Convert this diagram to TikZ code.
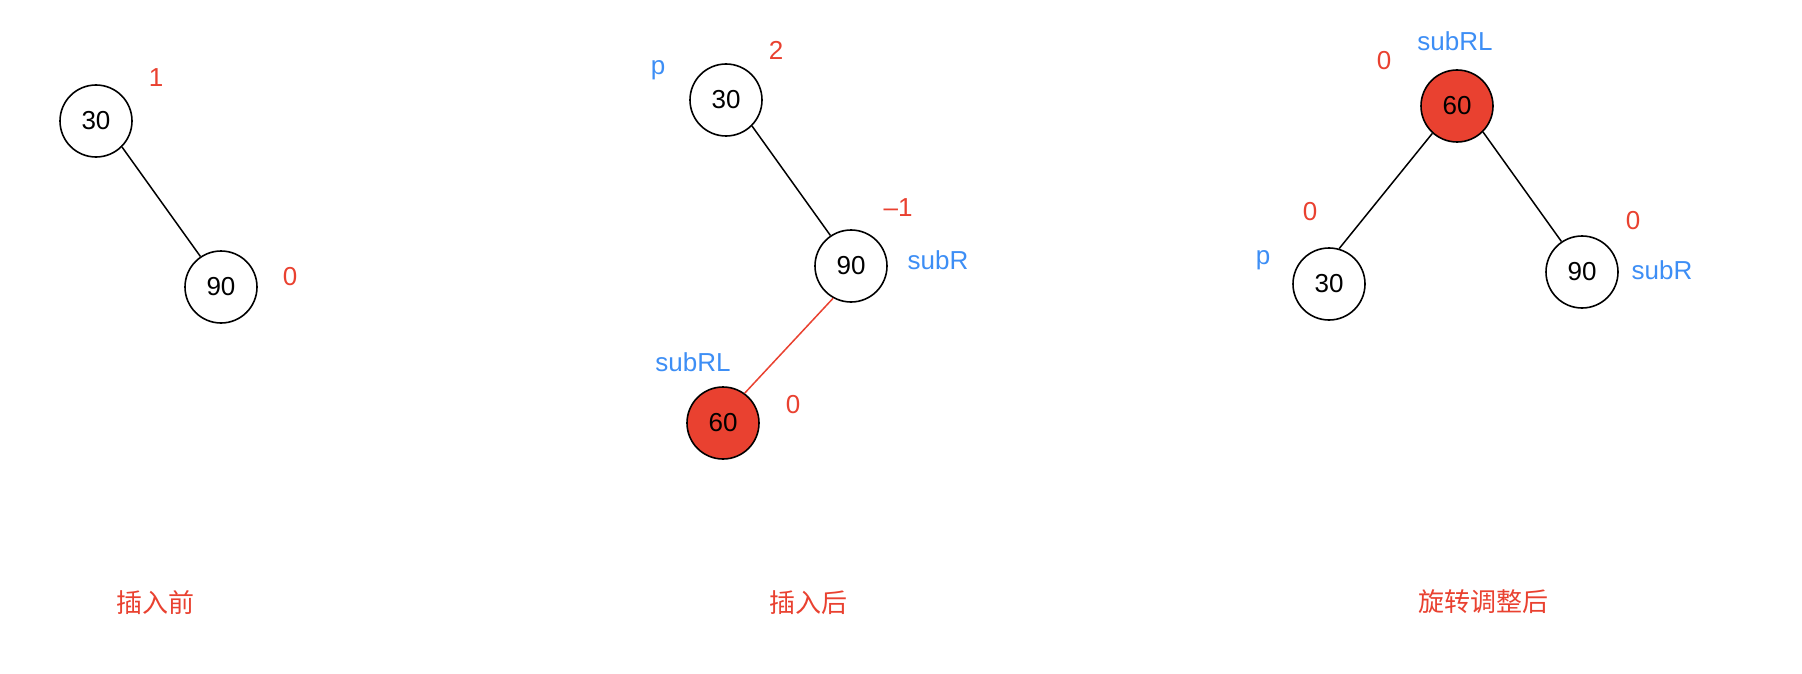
\documentclass[tikz,border=0pt]{standalone}
\usepackage{fontspec}
\setmainfont{Liberation Sans}
\newfontfamily\cjk{Noto Sans CJK SC}
\definecolor{lred}{HTML}{E94130}
\definecolor{lblue}{HTML}{3D8EF5}
\begin{document}
\begin{tikzpicture}[x=1pt,y=-1pt,
  tnode/.style={circle,draw=black,line width=1.6pt,minimum size=72pt,inner sep=0pt,font=\fontsize{26}{30}\selectfont},
  hot/.style={tnode,fill=lred},
  bal/.style={text=lred,font=\fontsize{26}{30}\selectfont,inner sep=0pt},
  ptr/.style={text=lblue,font=\fontsize{26}{30}\selectfont,inner sep=0pt},
  captext/.style={text=lred,font=\cjk\fontsize{26}{30}\selectfont,inner sep=0pt},
  blink/.style={line width=1.5pt,draw=black},
  rlink/.style={line width=1.5pt,draw=lred}]
\useasboundingbox (0,0) rectangle (1802,674);
% panel 1
\node[tnode] (a30) at (96,121) {30};
\node[tnode] (a90) at (221,287) {90};
\node[bal] (a30b) at (156,78) {1};
\node[bal] (a90b) at (290,277) {0};
\draw[blink] (a30.315) -- (a90.124);
\node[captext] (c1) at (155,603) {插入前};
% panel 2
\node[tnode] (b30) at (726,100) {30};
\node[tnode] (b90) at (851,266) {90};
\node[hot] (b60) at (723,423) {60};
\node[ptr] (bp) at (658,70) {p};
\node[bal] (b30b) at (776,50) {2};
\node[bal] (b90b) at (898,208) {\textendash1};
\node[ptr] (bsubR) at (938,260) {subR};
\node[ptr] (bsubRL) at (693,362) {subRL};
\node[bal] (b60b) at (793,405) {0};
\draw[blink] (b30.315) -- (b90.124);
\draw[rlink] (b90.241) -- (b60.54);
\node[captext] (c2) at (808,603) {插入后};
% panel 3
\node[hot] (c60) at (1457,106) {60};
\node[tnode] (c30) at (1329,284) {30};
\node[tnode] (c90) at (1582,272) {90};
\node[ptr] (csubRL) at (1455,41) {subRL};
\node[bal] (c60b) at (1384,61) {0};
\node[bal] (c30b) at (1310,212) {0};
\node[ptr] (cp) at (1263,260) {p};
\node[bal] (c90b) at (1633,221) {0};
\node[ptr] (csubR) at (1662,270) {subR};
\draw[blink] (c60.228) -- (c30.74);
\draw[blink] (c60.315) -- (c90.124);
\node[captext] (c3) at (1483,602) {旋转调整后};
\end{tikzpicture}
\end{document}
